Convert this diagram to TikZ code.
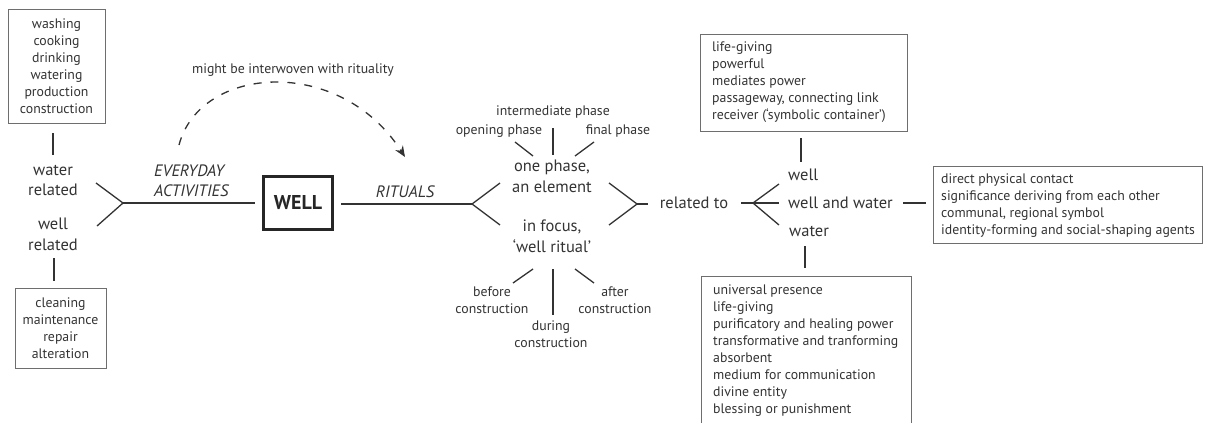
\documentclass[tikz,border=0pt]{standalone}
\usepackage{fontspec}
\setmainfont{PT Sans}
\usetikzlibrary{arrows.meta}
\definecolor{ink}{HTML}{333333}
\definecolor{boxc}{HTML}{6E6E6E}
\begin{document}
\begin{tikzpicture}[x=1pt,y=-1pt,
  small/.style={font=\fontsize{13.8}{17}\selectfont, text=ink, inner sep=0pt},
  big/.style={font=\fontsize{16.5}{20.5}\selectfont, text=ink, inner sep=0pt},
  bigit/.style={big, font=\fontsize{16.5}{20}\selectfont\itshape},
  conn/.style={draw=ink, line width=1.3pt},
  frame/.style={draw=boxc, line width=1pt, inner sep=0pt},
  listtext/.style={small, align=left, anchor=west}]
\useasboundingbox (0,0) rectangle (1208,423);

% ---------- left side ----------
\node[frame, small, align=center, minimum width=97, minimum height=114] (tl) at (56.5,66)
  {washing\\cooking\\drinking\\watering\\production\\construction};
\node[big, align=center] (wr) at (53,180.5) {water\\related};
\node[big, align=center] (wlr) at (53,234.5) {well\\related};
\node[frame, small, align=center, minimum width=91, minimum height=80] (bl) at (60.5,328)
  {cleaning\\maintenance\\repair\\alteration};
\coordinate (tlc1) at (53,133); \coordinate (tlc2) at (53,155);
\coordinate (blc1) at (54,258); \coordinate (blc2) at (54,281);
\draw[conn] (tlc1) -- (tlc2);
\draw[conn] (blc1) -- (blc2);

\coordinate (f1a) at (96,183); \coordinate (f1v) at (123,203); \coordinate (f1b) at (97,226);
\draw[conn] (f1a) -- (f1v) -- (f1b);

\node[bigit, align=left, anchor=west] (every) at (154,181) {EVERYDAY\\ACTIVITIES};

\node[draw=black!85, line width=3pt, minimum width=69, minimum height=53, inner sep=0pt,
  font=\fontsize{20}{24}\selectfont\bfseries, text=black!85] (well) at (298,203) {WELL};
\draw[conn, shorten >=7pt] (f1v) -- (well.west |- f1v);

% ---------- dashed arc ----------
\node[small] (might) at (293,70) {might be interwoven with rituality};
\coordinate (arcs) at (179,145); \coordinate (arce) at (405,157);
\draw[draw=ink, line width=1.3pt, dash pattern=on 8pt off 9pt, -{Stealth[length=11pt,width=9pt]}]
  (arcs) .. controls (200,65) and (340,55) .. (arce);

% ---------- rituals ----------
\node[bigit] (rit) at (405,192) {RITUALS};
\coordinate (f2v) at (472,204);
\draw[conn, shorten <=7pt] (well.east |- f2v) -- (f2v);
\coordinate (f2a) at (500,183); \coordinate (f2b) at (500,225);
\draw[conn] (f2a) -- (f2v) -- (f2b);

\node[big, align=center] (phase) at (552,176.5) {one phase,\\an element};
\node[big, align=center] (focus) at (552,236.5) {in focus,\\‘well ritual’};

\node[small] (inter) at (553,112) {intermediate phase};
\node[small] (open) at (499,131) {opening phase};
\node[small] (final) at (618,131) {final phase};
\coordinate (p1a) at (515,142); \coordinate (p1b) at (533,156);
\coordinate (p2a) at (553,128); \coordinate (p2b) at (553,155);
\coordinate (p3a) at (594,142); \coordinate (p3b) at (575,156);
\draw[conn] (p1a) -- (p1b);
\draw[conn] (p2a) -- (p2b);
\draw[conn] (p3a) -- (p3b);

\coordinate (q1a) at (533,269); \coordinate (q1b) at (513,283);
\coordinate (q2a) at (553,269); \coordinate (q2b) at (553,315);
\coordinate (q3a) at (575,269); \coordinate (q3b) at (594,283);
\draw[conn] (q1a) -- (q1b);
\draw[conn] (q2a) -- (q2b);
\draw[conn] (q3a) -- (q3b);
\node[small, align=center] (before) at (492,300) {before\\construction};
\node[small, align=center] (during) at (551,334.5) {during\\construction};
\node[small, align=center] (after) at (615,300) {after\\construction};

% ---------- related to ----------
\coordinate (f3a) at (609,183); \coordinate (f3v) at (637,204); \coordinate (f3b) at (609,225);
\draw[conn] (f3a) -- (f3v) -- (f3b);
\node[big] (rel) at (694,203) {related to};
\coordinate (f3e) at (648,204);
\draw[conn] (f3v) -- (f3e);
\coordinate (f4s) at (741,203); \coordinate (f4v) at (753,203);
\draw[conn] (f4s) -- (f4v);
\coordinate (f4a) at (779,184); \coordinate (f4m) at (779,203); \coordinate (f4b) at (779,225);
\draw[conn] (f4v) -- (f4a);
\draw[conn] (f4v) -- (f4m);
\draw[conn] (f4v) -- (f4b);

\node[big, anchor=west] (wl) at (788,175) {well};
\node[big, anchor=west] (ww) at (788,203) {well and water};
\node[big, anchor=west] (wa) at (789,231) {water};

% top right box
\node[frame, anchor=north west, minimum width=207, minimum height=97] (trb) at (700,34) {};
\node[listtext] (trt) at (712,82.5) {life-giving\\powerful\\mediates power\\passageway, connecting link\\receiver (‘symbolic container’)};
\coordinate (c1a) at (801,138); \coordinate (c1b) at (801,162);
\draw[conn] (c1a) -- (c1b);

% right box
\node[frame, anchor=north west, minimum width=269, minimum height=77] (rb) at (933,166) {};
\node[listtext] (rt) at (941,205.5) {direct physical contact\\significance deriving from each other\\communal, regional symbol\\identity-forming and social-shaping agents};
\coordinate (c2a) at (903,203); \coordinate (c2b) at (926,203);
\draw[conn] (c2a) -- (c2b);

% bottom right box (cut by the page edge)
\node[frame, anchor=north west, minimum width=210, minimum height=170] (brb) at (701,276) {};
\node[listtext] (brt) at (713,350.5) {universal presence\\life-giving\\purificatory and healing power\\transformative and tranforming\\absorbent\\medium for communication\\divine entity\\blessing or punishment};
\coordinate (c3a) at (805,246); \coordinate (c3b) at (805,268);
\draw[conn] (c3a) -- (c3b);
\end{tikzpicture}
\end{document}
